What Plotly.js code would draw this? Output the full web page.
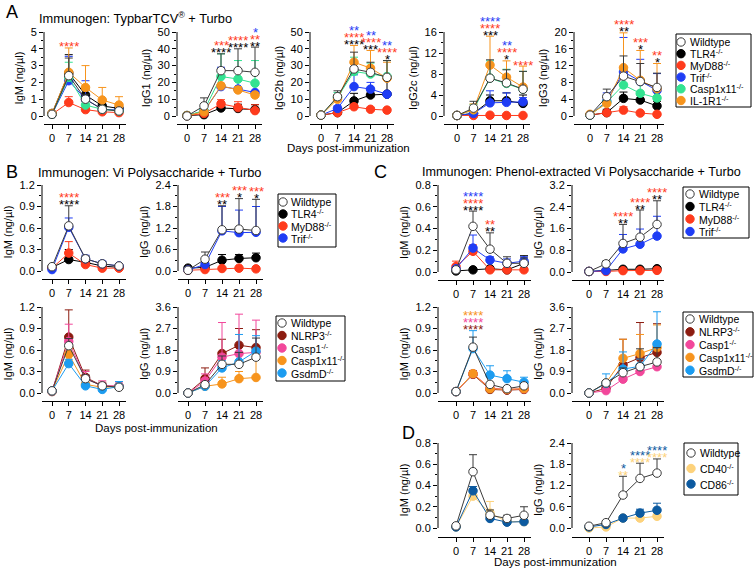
<!DOCTYPE html>
<html>
<head>
<meta charset="utf-8">
<script src="https://cdn.plot.ly/plotly-3.0.1.min.js"></script>
<style>
  html, body { margin: 0; padding: 0; background: #fff; }
  #chart { width: 754px; height: 569px; }
</style>
</head>
<body>
<div id="chart"></div>
<script>
// ---------------- data ----------------
const days = [0, 7, 14, 21, 28];

const typbarGroups = ['Wildtype', 'TLR4', 'MyD88', 'Trif', 'Casp1x11', 'IL-1R1'];
const tlrGroups = ['Wildtype', 'TLR4', 'MyD88', 'Trif'];
const inflGroups = ['Wildtype', 'NLRP3', 'Casp1', 'Casp1x11', 'GsdmD'];
const cdGroups = ['Wildtype', 'CD40', 'CD86'];

// tick labels
const ticksIgM_A = [0, 1, 2, 3, 4, 5];
const ticksIgG1_A = [0, 10, 20, 30, 40, 50];
const ticksIgG2b_A = [0, 10, 20, 30, 40, 50];
const ticksIgG2c_A = [0, 4, 8, 12, 16];
const ticksIgG3_A = [0, 4, 8, 12, 16, 20];
const ticks12 = ['0.0', '0.3', '0.6', '0.9', '1.2'];
const ticks24 = ['0.0', '0.6', '1.2', '1.8', '2.4'];
const ticks36 = ['0.0', '0.9', '1.8', '2.7', '3.6'];
const ticks08 = ['0.0', '0.2', '0.4', '0.6', '0.8'];
const ticks32 = ['0.0', '0.8', '1.6', '2.4', '3.2'];

// A: TypbarTCV + Turbo (rows follow typbarGroups)
const A_IgM = [
  [0.1, 2.4, 1.0, 0.4, 0.3],
  [0.15, 2.55, 1.25, 0.6, 0.45],
  [0.1, 0.8, 0.38, 0.25, 0.2],
  [0.1, 2.1, 1.0, 0.4, 0.35],
  [0.1, 2.3, 0.65, 0.4, 0.3],
  [0.15, 2.6, 1.7, 0.95, 0.65]
];
const A_IgM_sd = [
  [0.05, 1.05, 0.3, 0.15, 0.1],
  [0.05, 1.1, 0.35, 0.25, 0.15],
  [0.05, 0.35, 0.12, 0.08, 0.08],
  [0.05, 1.45, 1.1, 0.1, 0.1],
  [0.05, 0.9, 0.25, 0.1, 0.1],
  [0.05, 1.45, 1.3, 0.75, 0.5]
];
const A_IgM_stars = [[7, 'MyD88', '****']];

const A_IgG1 = [
  [0, 6, 27, 27, 26],
  [0.2, 0.8, 4.8, 4.5, 3.8],
  [0.2, 1.5, 7.2, 5, 3.2],
  [0.3, 3, 17.5, 16, 14],
  [0.3, 3.2, 23.5, 22, 19.5],
  [0.3, 2.5, 18, 15.5, 12.5]
];
const A_IgG1_sd = [
  [0.3, 4.8, 10, 13, 15],
  [0.1, 1, 3.5, 2.5, 3],
  [0.1, 1, 2.5, 3.5, 3.5],
  [0.2, 1.5, 11.5, 5, 6],
  [0.2, 2, 13.5, 11, 13.5],
  [0.2, 1.5, 1.5, 2, 1.5]
];
const A_IgG1_stars = [
  [14, 'TLR4', '****'], [14, 'MyD88', '***'],
  [21, 'TLR4', '****'], [21, 'MyD88', '****'],
  [28, 'TLR4', '**'], [28, 'MyD88', '**'], [28, 'Trif', '*']
];

const A_IgG2b = [
  [0.5, 11.5, 28, 26, 23],
  [0.5, 2, 9, 12.5, 13],
  [0.5, 2, 5.5, 4, 3.5],
  [0.5, 4.5, 17.5, 16, 13],
  [0.5, 11, 26.5, 25, 23.5],
  [0.5, 10, 32, 28.5, 22.5]
];
const A_IgG2b_sd = [
  [0.3, 3.5, 10, 6, 10],
  [0.2, 1, 4.5, 3, 9],
  [0.2, 0.5, 1.5, 1, 1],
  [0.2, 1.5, 7, 4, 1.5],
  [0.3, 3, 8.5, 6.5, 9.5],
  [0.3, 2.5, 10, 10.5, 9.5]
];
const A_IgG2b_stars = [
  [14, 'TLR4', '****'], [14, 'MyD88', '****'], [14, 'Trif', '**'],
  [21, 'TLR4', '***'], [21, 'MyD88', '****'], [21, 'Trif', '**'],
  [28, 'TLR4', '*'], [28, 'MyD88', '****'], [28, 'Trif', '**']
];

const A_IgG2c = [
  [0.1, 1.5, 7.2, 6.3, 5.1],
  [0.1, 0.5, 2.9, 2.9, 2.4],
  [0.1, 0.1, 0.15, 0.1, 0.1],
  [0.1, 0.5, 2.5, 2.6, 2.7],
  [0.1, 1.2, 7.2, 6.2, 5.1],
  [0.1, 1.2, 9.7, 7.4, 5.5]
];
const A_IgG2c_sd = [
  [0.1, 1.3, 3.5, 2.5, 3.4],
  [0.1, 0.6, 1.1, 1.5, 1.6],
  [0.05, 0.05, 0.05, 0.05, 0.05],
  [0.1, 0.5, 2.3, 1.8, 0.8],
  [0.1, 1.0, 3.3, 2.7, 3.4],
  [0.1, 1.1, 5.5, 3.1, 4.0]
];
const A_IgG2c_stars = [
  [14, 'TLR4', '***'], [14, 'MyD88', '****'], [14, 'Trif', '****'],
  [21, 'TLR4', '*'], [21, 'MyD88', '****'], [21, 'Trif', '**'],
  [28, 'MyD88', '****']
];

const A_IgG3 = [
  [0.2, 4.6, 9.5, 8.2, 6.8],
  [0.2, 0.8, 4.2, 3.8, 2.4],
  [0.2, 0.8, 1.4, 0.7, 0.4],
  [0.2, 3.5, 10.5, 8.2, 6.1],
  [0.2, 3.3, 7.4, 5.4, 4.3],
  [0.4, 3.0, 11.5, 8.5, 6.5]
];
const A_IgG3_sd = [
  [0.2, 1.8, 4.8, 4.3, 3.4],
  [0.1, 0.8, 1.5, 1.2, 1.1],
  [0.1, 0.3, 0.8, 0.3, 0.3],
  [0.2, 2.0, 8.2, 5.3, 4.0],
  [0.2, 1.5, 3.6, 3.4, 2.5],
  [0.2, 1.5, 8.3, 7.1, 6.0]
];
const A_IgG3_stars = [
  [14, 'TLR4', '**'], [14, 'MyD88', '****'],
  [21, 'TLR4', '*'], [21, 'MyD88', '***'],
  [28, 'TLR4', '*'], [28, 'MyD88', '**']
];

// B: Vi polysaccharide + Turbo
const B_IgM = [
  [0.06, 0.63, 0.17, 0.1, 0.07],
  [0.05, 0.16, 0.12, 0.07, 0.05],
  [0.04, 0.25, 0.09, 0.04, 0.04],
  [0.02, 0.61, 0.17, 0.1, 0.07]
];
const B_IgM_sd = [
  [0.02, 0.28, 0.04, 0.03, 0.02],
  [0.02, 0.14, 0.03, 0.02, 0.01],
  [0.02, 0.16, 0.03, 0.02, 0.01],
  [0.01, 0.13, 0.05, 0.04, 0.02]
];
const B_IgM_stars = [[7, 'TLR4', '****'], [7, 'MyD88', '****']];

const B_IgG = [
  [0.02, 0.33, 1.15, 1.17, 1.13],
  [0.08, 0.1, 0.3, 0.35, 0.37],
  [0.02, 0.04, 0.07, 0.08, 0.06],
  [0.03, 0.18, 1.12, 1.07, 1.08]
];
const B_IgG_sd = [
  [0.02, 0.2, 0.67, 0.85, 0.87],
  [0.03, 0.1, 0.16, 0.11, 0.13],
  [0.01, 0.02, 0.02, 0.02, 0.02],
  [0.02, 0.08, 0.68, 0.63, 0.72]
];
const B_IgG_stars = [
  [14, 'TLR4', '**'], [14, 'MyD88', '***'],
  [21, 'TLR4', '*'], [21, 'MyD88', '***'],
  [28, 'TLR4', '*'], [28, 'MyD88', '***']
];

const B_IgM_infl = [
  [0.03, 0.66, 0.2, 0.1, 0.08],
  [0.02, 0.78, 0.22, 0.1, 0.09],
  [0.03, 0.72, 0.2, 0.1, 0.1],
  [0.03, 0.54, 0.12, 0.08, 0.09],
  [0.03, 0.41, 0.1, 0.05, 0.09]
];
const B_IgM_infl_sd = [
  [0.01, 0.1, 0.05, 0.03, 0.03],
  [0.01, 0.38, 0.1, 0.05, 0.03],
  [0.01, 0.24, 0.1, 0.07, 0.04],
  [0.01, 0.08, 0.03, 0.03, 0.03],
  [0.01, 0.06, 0.03, 0.03, 0.07]
];

const B_IgG_infl = [
  [0, 0.35, 1.2, 1.2, 1.5],
  [0, 0.6, 1.65, 2.0, 1.9],
  [0, 0.5, 1.5, 1.65, 1.7],
  [0, 0.28, 0.38, 0.6, 0.65],
  [0, 0.28, 1.05, 1.3, 1.75]
];
const B_IgG_infl_sd = [
  [0, 0.1, 0.35, 0.5, 0.8],
  [0, 0.45, 0.6, 0.7, 0.75],
  [0, 0.3, 1.45, 1.65, 1.35],
  [0, 0.1, 0.28, 0.3, 0.95],
  [0, 0.1, 0.3, 1.15, 0.65]
];

// C: phenol-extracted Vi polysaccharide + Turbo
const C_IgM = [
  [0.02, 0.42, 0.21, 0.08, 0.08],
  [0.01, 0.02, 0.03, 0.02, 0.08],
  [0.05, 0.19, 0.02, 0.02, 0.02],
  [0.03, 0.22, 0.11, 0.08, 0.1]
];
const C_IgM_sd = [
  [0.02, 0.14, 0.15, 0.06, 0.05],
  [0.01, 0.01, 0.01, 0.01, 0.07],
  [0.05, 0.06, 0.01, 0.01, 0.01],
  [0.02, 0.12, 0.03, 0.04, 0.04]
];
const C_IgM_stars = [
  [7, 'TLR4', '****'], [7, 'MyD88', '****'], [7, 'Trif', '****'],
  [14, 'TLR4', '**'], [14, 'MyD88', '**']
];

const C_IgG = [
  [0.02, 0.3, 1.05, 1.28, 1.75],
  [0.02, 0.05, 0.1, 0.1, 0.12],
  [0.02, 0.02, 0.05, 0.05, 0.06],
  [0.02, 0.05, 0.85, 1.02, 1.32]
];
const C_IgG_sd = [
  [0.01, 0.1, 0.7, 1.0, 0.87],
  [0.01, 0.02, 0.03, 0.03, 0.03],
  [0.01, 0.01, 0.02, 0.02, 0.02],
  [0.01, 0.03, 0.53, 0.56, 0.73]
];
const C_IgG_stars = [
  [14, 'TLR4', '**'], [14, 'MyD88', '****'],
  [21, 'TLR4', '**'], [21, 'MyD88', '****'],
  [28, 'TLR4', '**'], [28, 'MyD88', '****']
];

const C_IgM_infl = [
  [0.02, 0.64, 0.12, 0.06, 0.1],
  [0.02, 0.26, 0.05, 0.04, 0.05],
  [0.02, 0.27, 0.07, 0.05, 0.06],
  [0.02, 0.27, 0.06, 0.05, 0.06],
  [0.02, 0.62, 0.25, 0.2, 0.15]
];
const C_IgM_infl_sd = [
  [0.01, 0.14, 0.03, 0.02, 0.03],
  [0.01, 0.05, 0.02, 0.01, 0.01],
  [0.01, 0.03, 0.02, 0.01, 0.01],
  [0.01, 0.03, 0.02, 0.01, 0.01],
  [0.01, 0.25, 0.13, 0.11, 0.07]
];
const C_IgM_infl_stars = [[7, 'NLRP3', '****'], [7, 'Casp1', '****'], [7, 'Casp1x11', '****']];

const C_IgG_infl = [
  [0, 0.42, 0.85, 1.1, 1.3],
  [0, 0.2, 1.18, 1.48, 1.7],
  [0, 0.1, 0.58, 0.9, 1.1],
  [0, 0.42, 1.45, 1.65, 1.9],
  [0, 0.4, 1.0, 1.12, 2.05]
];
const C_IgG_infl_sd = [
  [0, 0.1, 0.2, 0.75, 0.6],
  [0, 0.1, 1.07, 1.47, 1.2],
  [0, 0.05, 0.1, 0.1, 0.1],
  [0, 0.1, 0.8, 0.8, 0.95],
  [0, 0.4, 0.72, 0.3, 1.35]
];

// D: costimulation knockouts
const D_IgM = [
  [0.02, 0.53, 0.12, 0.09, 0.12],
  [0.01, 0.3, 0.14, 0.06, 0.06],
  [0.01, 0.35, 0.09, 0.055, 0.06]
];
const D_IgM_sd = [
  [0.01, 0.16, 0.05, 0.03, 0.08],
  [0.01, 0.03, 0.11, 0.02, 0.02],
  [0.01, 0.04, 0.02, 0.02, 0.01]
];
const D_IgG = [
  [0.05, 0.15, 0.93, 1.4, 1.55],
  [0.0, 0.03, 0.28, 0.28, 0.33],
  [0.03, 0.1, 0.28, 0.42, 0.5]
];
const D_IgG_sd = [
  [0.02, 0.03, 0.53, 0.43, 0.4],
  [0.01, 0.01, 0.03, 0.04, 0.05],
  [0.01, 0.02, 0.03, 0.11, 0.2]
];
const D_IgG_stars = [
  [14, 'CD40', '**'], [14, 'CD86', '*'],
  [21, 'CD40', '****'], [21, 'CD86', '****'],
  [28, 'CD40', '****'], [28, 'CD86', '****']
];

// ---------------- styling ----------------
const W = 754, H = 569;
const FONT = '"Liberation Sans", Arial, Helvetica, sans-serif';
const px = v => v / W;
const py = v => 1 - v / H;

const palette = {
  Wildtype: '#ffffff', TLR4: '#000000', MyD88: '#ff3b1d', Trif: '#1f3df5',
  'IL-1R1': '#f7941d', NLRP3: '#8c1c10', Casp1: '#f2479b', GsdmD: '#1c9cf0',
  CD40: '#fdd27b', CD86: '#0c5aa0'
};
function colorOf(group, groups) {
  if (group === 'Casp1x11') return groups === typbarGroups ? '#33e391' : '#f7941d';
  return palette[group];
}
function labelOf(group) {
  return group === 'Wildtype' ? group : group + '<sup>-/-</sup>';
}

// plot-area geometry (pixels)
const rowA = { top: 32, zero: 116, xline: 124 };
const rowBt = { top: 185, zero: 271, xline: 279 };
const rowBb = { top: 307, zero: 393, xline: 401 };
const rowCt = { top: 185, zero: 272, xline: 280 };
const rowCb = { top: 307, zero: 393, xline: 401 };
const rowD = { top: 443, zero: 528, xline: 537 };
const colB1 = { yax: 42, d0: 52, d28: 119 };
const colB2 = { yax: 178, d0: 188, d28: 256 };
const colC1 = { yax: 438, d0: 456, d28: 524 };
const colC2 = { yax: 572, d0: 589, d28: 657 };

const panels = [
  { groups: typbarGroups, m: A_IgM, sd: A_IgM_sd, stars: A_IgM_stars, title: 'IgM (ng/µl)',
    tv: ticksIgM_A, tt: ticksIgM_A.map(String), row: rowA, col: { yax: 44, d0: 52, d28: 119 } },
  { groups: typbarGroups, m: A_IgG1, sd: A_IgG1_sd, stars: A_IgG1_stars, title: 'IgG1 (ng/µl)',
    tv: ticksIgG1_A, tt: ticksIgG1_A.map(String), row: rowA, col: { yax: 177, d0: 187, d28: 255 } },
  { groups: typbarGroups, m: A_IgG2b, sd: A_IgG2b_sd, stars: A_IgG2b_stars, title: 'IgG2b (ng/µl)',
    tv: ticksIgG2b_A, tt: ticksIgG2b_A.map(String), row: rowA, col: { yax: 310, d0: 321, d28: 387 } },
  { groups: typbarGroups, m: A_IgG2c, sd: A_IgG2c_sd, stars: A_IgG2c_stars, title: 'IgG2c (ng/µl)',
    tv: ticksIgG2c_A, tt: ticksIgG2c_A.map(String), row: rowA, col: { yax: 444, d0: 457, d28: 523 } },
  { groups: typbarGroups, m: A_IgG3, sd: A_IgG3_sd, stars: A_IgG3_stars, title: 'IgG3 (ng/µl)',
    tv: ticksIgG3_A, tt: ticksIgG3_A.map(String), row: rowA, col: { yax: 574, d0: 590, d28: 657 } },

  { groups: tlrGroups, m: B_IgM, sd: B_IgM_sd, stars: B_IgM_stars, title: 'IgM (ng/µl)',
    tt: ticks12, row: rowBt, col: colB1 },
  { groups: tlrGroups, m: B_IgG, sd: B_IgG_sd, stars: B_IgG_stars, title: 'IgG (ng/µl)',
    tt: ticks24, row: rowBt, col: colB2 },
  { groups: inflGroups, m: B_IgM_infl, sd: B_IgM_infl_sd, stars: [], title: 'IgM (ng/µl)',
    tt: ticks12, row: rowBb, col: colB1 },
  { groups: inflGroups, m: B_IgG_infl, sd: B_IgG_infl_sd, stars: [], title: 'IgG (ng/µl)',
    tt: ticks36, row: rowBb, col: colB2 },

  { groups: tlrGroups, m: C_IgM, sd: C_IgM_sd, stars: C_IgM_stars, title: 'IgM (ng/µl)',
    tt: ticks08, row: rowCt, col: colC1 },
  { groups: tlrGroups, m: C_IgG, sd: C_IgG_sd, stars: C_IgG_stars, title: 'IgG (ng/µl)',
    tt: ticks32, row: rowCt, col: colC2 },
  { groups: inflGroups, m: C_IgM_infl, sd: C_IgM_infl_sd, stars: C_IgM_infl_stars, title: 'IgM (ng/µl)',
    tt: ticks12, row: rowCb, col: colC1 },
  { groups: inflGroups, m: C_IgG_infl, sd: C_IgG_infl_sd, stars: [], title: 'IgG (ng/µl)',
    tt: ticks36, row: rowCb, col: colC2 },

  { groups: cdGroups, m: D_IgM, sd: D_IgM_sd, stars: [], title: 'IgM (ng/µl)',
    tt: ticks08, row: rowD, col: colC1 },
  { groups: cdGroups, m: D_IgG, sd: D_IgG_sd, stars: D_IgG_stars, title: 'IgG (ng/µl)',
    tt: ticks24, row: rowD, col: colC2 }
];

const layout = {
  width: W, height: H, autosize: false,
  margin: { l: 0, r: 0, t: 0, b: 0 },
  paper_bgcolor: '#ffffff', plot_bgcolor: 'rgba(0,0,0,0)',
  showlegend: false,
  font: { family: FONT, size: 11, color: '#000' },
  annotations: [], shapes: []
};
const traces = [];

panels.forEach((p, k) => {
  const n = k + 1;
  const suf = n === 1 ? '' : String(n);
  const xr = 'x' + suf, yr = 'y' + suf;
  const g = p.row, c = p.col;
  const tv = p.tv || p.tt.map(Number);
  const ymax = tv[tv.length - 1];
  const step = tv[1] - tv[0];
  const s = (c.d28 - c.d0) / 28;
  const xmin = -(c.d0 - c.yax) / s;
  const xmax = 28 + 7 / s;
  const ymin = -(g.xline - g.zero) / (g.zero - g.top) * ymax;
  const minorVals = tv.slice(0, -1).map(v => v + step / 2);

  layout['xaxis' + suf] = {
    domain: [px(c.yax), px(c.d28 + 7)], range: [xmin, xmax], anchor: yr,
    tickvals: days, ticktext: days.map(String), ticks: 'outside', ticklen: 4, tickwidth: 1,
    tickcolor: '#000', showline: true, linewidth: 1, linecolor: '#000',
    showgrid: false, zeroline: false, tickfont: { size: 11 }, fixedrange: true
  };
  layout['yaxis' + suf] = {
    domain: [py(g.xline), py(g.top)], range: [ymin, ymax], anchor: xr,
    tickvals: tv, ticktext: p.tt, ticks: 'outside', ticklen: 4, tickwidth: 1, tickcolor: '#000',
    minor: { tickvals: minorVals, ticks: 'outside', ticklen: 2, tickcolor: '#000', showgrid: false },
    showline: false, showgrid: false, zeroline: false, tickfont: { size: 11 },
    title: { text: p.title, font: { size: 11 }, standoff: 4 }, fixedrange: true
  };
  // y-axis spine from zero to the top tick
  layout.shapes.push({
    type: 'line', xref: xr + ' domain', yref: yr, x0: 0, x1: 0, y0: 0, y1: ymax,
    line: { color: '#000', width: 1 }
  });

  // series: coloured groups first, wildtype on top
  const order = p.groups.map((_, i) => i).filter(i => p.groups[i] !== 'Wildtype');
  order.push(p.groups.indexOf('Wildtype'));
  order.forEach(i => {
    const grp = p.groups[i];
    const isWT = grp === 'Wildtype';
    const col = colorOf(grp, p.groups);
    const edge = isWT ? '#3a3a3a' : col;
    traces.push({
      type: 'scatter', mode: 'lines+markers', xaxis: xr, yaxis: yr,
      x: days, y: p.m[i], name: grp, hoverinfo: 'skip', cliponaxis: false,
      line: { color: edge, width: 1 },
      marker: { size: 8.5, color: col, line: { color: edge, width: 1 } },
      error_y: {
        type: 'data', symmetric: false, array: p.sd[i], arrayminus: p.sd[i].map(() => 0),
        color: edge, thickness: 1, width: 4
      }
    });
  });

  // significance asterisks stacked above the tallest error bar of each day
  const rowCount = {};
  p.stars.forEach(([day, grp, txt]) => {
    const di = days.indexOf(day);
    const r = rowCount[day] || 0;
    rowCount[day] = r + 1;
    let top = 0;
    p.groups.forEach((_, i) => { top = Math.max(top, p.m[i][di] + p.sd[i][di]); });
    layout.annotations.push({
      xref: xr, yref: yr, x: day, y: top, xanchor: 'center', yanchor: 'middle',
      yshift: 1 + 7 * r, showarrow: false, text: txt,
      font: { size: 13, color: grp === 'TLR4' ? '#000' : colorOf(grp, p.groups) }
    });
  });
});

// ---------------- legends ----------------
const legends = [
  { groups: typbarGroups, box: [676, 34, 751, 107], y0: 42, step: 11.7, mx: 681, tx: 688 },
  { groups: tlrGroups, box: [278, 194, 336, 247], y0: 202, step: 12, mx: 283, tx: 289 },
  { groups: inflGroups, box: [276, 316, 345, 381], y0: 323, step: 12.5, mx: 282, tx: 289 },
  { groups: tlrGroups, box: [683, 187, 749, 238], y0: 194, step: 12.5, mx: 690, tx: 697 },
  { groups: inflGroups, box: [683, 312, 753, 377], y0: 319, step: 12.8, mx: 690, tx: 697 },
  { groups: cdGroups, box: [684, 443, 738, 495], y0: 453, step: 15.5, mx: 691, tx: 698 }
];
legends.forEach(L => {
  layout.shapes.push({
    type: 'rect', xref: 'paper', yref: 'paper',
    x0: px(L.box[0]), x1: px(L.box[2]), y0: py(L.box[3]), y1: py(L.box[1]),
    line: { color: '#000', width: 1 }, fillcolor: 'rgba(0,0,0,0)'
  });
  L.groups.forEach((grp, i) => {
    const cy = L.y0 + i * L.step;
    const col = colorOf(grp, L.groups);
    const edge = grp === 'Wildtype' ? '#3a3a3a' : col;
    layout.shapes.push({
      type: 'circle', xref: 'paper', yref: 'paper', xsizemode: 'pixel', ysizemode: 'pixel',
      xanchor: px(L.mx), yanchor: py(cy), x0: -4.2, x1: 4.2, y0: -4.2, y1: 4.2,
      fillcolor: col, line: { color: edge, width: 1 }
    });
    layout.annotations.push({
      xref: 'paper', yref: 'paper', x: px(L.tx), y: py(cy), xanchor: 'left', yanchor: 'middle',
      showarrow: false, text: labelOf(grp), font: { size: 10.5 }
    });
  });
});

// ---------------- titles & panel letters ----------------
const textItems = [
  { x: 4, y: 12, t: 'A', s: 18 }, { x: 4, y: 172, t: 'B', s: 18 },
  { x: 372, y: 172, t: 'C', s: 18 }, { x: 400, y: 433, t: 'D', s: 18 },
  { x: 37, y: 18, t: 'Immunogen: TypbarTCV<sup>®</sup> + Turbo', s: 12.8 },
  { x: 36, y: 172, t: 'Immunogen: Vi Polysaccharide + Turbo', s: 12.8 },
  { x: 420, y: 172, t: 'Immunogen: Phenol-extracted Vi Polysaccharide + Turbo', s: 12.6 }
];
textItems.forEach(o => layout.annotations.push({
  xref: 'paper', yref: 'paper', x: px(o.x), y: py(o.y), xanchor: 'left', yanchor: 'middle',
  showarrow: false, text: o.t, font: { size: o.s }
}));
[[348, 148], [156, 428], [555, 562]].forEach(([x, y]) => layout.annotations.push({
  xref: 'paper', yref: 'paper', x: px(x), y: py(y), xanchor: 'center', yanchor: 'middle',
  showarrow: false, text: 'Days post-immunization', font: { size: 11.5 }
}));

Plotly.newPlot('chart', traces, layout, { staticPlot: true, displayModeBar: false });
</script>
</body>
</html>
